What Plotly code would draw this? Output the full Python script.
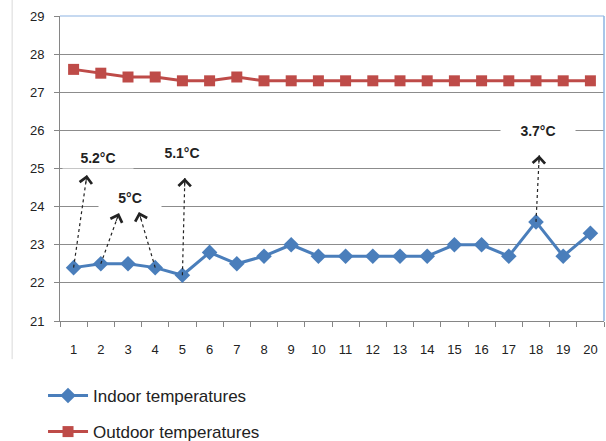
import math
import plotly.graph_objects as go

days = list(range(1, 21))
indoor = [22.4, 22.5, 22.5, 22.4, 22.2, 22.8, 22.5, 22.7, 23.0, 22.7,
          22.7, 22.7, 22.7, 22.7, 23.0, 23.0, 22.7, 23.6, 22.7, 23.3]
outdoor = [27.6, 27.5, 27.4, 27.4, 27.3, 27.3, 27.4, 27.3, 27.3, 27.3,
           27.3, 27.3, 27.3, 27.3, 27.3, 27.3, 27.3, 27.3, 27.3, 27.3]

# dashed arrows: start day index (on indoor series) -> end point (x, y)
arrow_from_day = [1, 2, 4, 5, 18]
arrow_to_x = [1.49, 2.67, 3.40, 5.09, 18.12]
arrow_to_y = [24.83, 23.83, 23.86, 24.75, 25.35]

label_text = ["5.2°C", "5°C", "5.1°C", "3.7°C"]
label_x = [1.9, 3.07, 4.98, 18.08]
label_y = [25.27, 24.22, 25.4, 25.98]
label_w = [66, 58, 66, 70]

BLUE = "#4A7EBB"
RED = "#BE4B48"
FONT = "Liberation Sans"

W, H = 606, 441
ML, MR, MT, MB = 60, 2, 16, 120
px_per_x = (W - ML - MR) / 20.0
px_per_y = (H - MT - MB) / 8.0

fig = go.Figure()
fig.add_trace(go.Scatter(
    x=days, y=indoor, name="Indoor temperatures", mode="lines+markers",
    line=dict(color=BLUE, width=3),
    marker=dict(symbol="diamond", size=12, color=BLUE),
    legendgroup="a"))
fig.add_trace(go.Scatter(
    x=days, y=outdoor, name="Outdoor temperatures", mode="lines+markers",
    line=dict(color=RED, width=3),
    marker=dict(symbol="square", size=11, color=RED),
    legendgroup="b"))

annotations = []
for d, tx, ty in zip(arrow_from_day, arrow_to_x, arrow_to_y):
    sx, sy = d, indoor[d - 1]
    fig.add_trace(go.Scatter(
        x=[sx, tx], y=[sy, ty], mode="lines", showlegend=False,
        hoverinfo="skip",
        line=dict(color="#222222", width=1.2, dash="dot")))
    dxp = (tx - sx) * px_per_x
    dyp = -(ty - sy) * px_per_y
    ln = math.hypot(dxp, dyp)
    L = 10.0
    annotations.append(dict(
        x=tx, y=ty, xref="x", yref="y",
        ax=-dxp / ln * L, ay=-dyp / ln * L,
        text="", showarrow=True, arrowhead=4, arrowsize=2.4, arrowwidth=1,
        arrowcolor="#222222"))

for t, lx, ly, w in zip(label_text, label_x, label_y, label_w):
    annotations.append(dict(
        x=lx, y=ly, xref="x", yref="y", text="<b>" + t + "</b>",
        showarrow=False, bgcolor="white", borderpad=2, width=w,
        font=dict(family=FONT, size=14, color="#222222")))

fig.update_layout(
    width=W, height=H,
    margin=dict(l=ML, r=MR, t=MT, b=MB, autoexpand=False),
    paper_bgcolor="white", plot_bgcolor="white",
    font=dict(family=FONT, size=13, color="#222222"),
    showlegend=True,
    legend=dict(x=0.071, y=0.143, xref="container", yref="container",
                xanchor="left", yanchor="top",
                traceorder="grouped", tracegroupgap=11,
                font=dict(family=FONT, size=17, color="#222222"),
                itemwidth=40),
    annotations=annotations,
    shapes=[
        dict(type="line", xref="paper", yref="paper", x0=-0.088, x1=-0.088,
             y0=1.06, y1=-0.125, line=dict(color="#D9D9D9", width=1)),
        dict(type="line", xref="paper", yref="paper", x0=0, x1=1,
             y0=1, y1=1, line=dict(color="#8DB3E2", width=1), layer="above"),
        dict(type="line", xref="paper", yref="paper", x0=1, x1=1,
             y0=0, y1=1, line=dict(color="#8DB3E2", width=1.5), layer="above"),
    ],
)
fig.update_xaxes(
    range=[0.5, 20.5], tickmode="array", tickvals=days,
    ticktext=[str(d) for d in days], ticks="",
    minor=dict(ticks="outside", tick0=0.5, dtick=1, ticklen=5,
               tickcolor="#868686", showgrid=False),
    showline=True, linecolor="#868686", linewidth=1,
    showgrid=False, zeroline=False, ticklabelstandoff=16,
    tickfont=dict(family=FONT, size=13, color="#222222"),
)
fig.update_yaxes(
    range=[21, 29], dtick=1, ticks="outside", ticklen=5, tickcolor="#868686",
    showline=True, linecolor="#868686", linewidth=1,
    showgrid=True, gridcolor="#8C8C8C", gridwidth=1, zeroline=False,
    ticklabelstandoff=7,
    tickfont=dict(family=FONT, size=13, color="#222222"),
)

fig.write_html("out.html", config={"displayModeBar": False},
               post_script="document.body.style.margin='0px';")
